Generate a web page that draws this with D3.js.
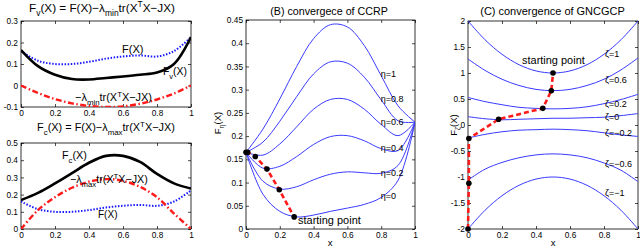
<!DOCTYPE html>
<html><head><meta charset="utf-8">
<script src="https://cdn.jsdelivr.net/npm/d3@7"></script>
<style>html,body{margin:0;padding:0;background:#fff;} svg{display:block;font-family:"Liberation Sans",Arial,sans-serif;}</style>
</head><body>
<svg id="c" width="640" height="248"></svg>
<script>
// ---------- DATA ----------
const xGrid = [0, 0.1, 0.2, 0.3, 0.4, 0.5, 0.6, 0.7, 0.8, 0.9, 1];
const xTicks = [0, 0.2, 0.4, 0.6, 0.8, 1];
const xTickLabels = ["0", "0.2", "0.4", "0.6", "0.8", "1"];

// Panel A (top): Fv = F - lambda_min tr(...)
const aTopYTicks = [-0.1, 0, 0.1, 0.2, 0.3];
const aTopYLabels = ["-0.1", "0", "0.1", "0.2", "0.3"];
const F_vals   = [0.16, 0.115, 0.10, 0.10, 0.11, 0.125, 0.135, 0.14, 0.135, 0.16, 0.225];
const Fv_vals  = [0.165, 0.09, 0.05, 0.03, 0.028, 0.035, 0.042, 0.05, 0.06, 0.10, 0.225];
const minTerm  = [0, -0.035, -0.063, -0.083, -0.095, -0.1, -0.097, -0.085, -0.065, -0.037, 0];

// Panel A (bottom): Fc = F - lambda_max tr(...)
const aBotYTicks = [0, 0.1, 0.2, 0.3, 0.4, 0.5];
const aBotYLabels = ["0", "0.1", "0.2", "0.3", "0.4", "0.5"];
const Fc_vals  = [0.168, 0.21, 0.265, 0.325, 0.385, 0.425, 0.425, 0.39, 0.32, 0.265, 0.235];
const maxTerm  = [0, 0.11, 0.185, 0.24, 0.275, 0.29, 0.28, 0.245, 0.185, 0.09, 0];

// Panel B: convergence of CCRP
const bYTicks = [0, 0.05, 0.1, 0.15, 0.2, 0.25, 0.3, 0.35, 0.4, 0.45];
const bYLabels = ["0", "0.05", "0.1", "0.15", "0.2", "0.25", "0.3", "0.35", "0.4", "0.45"];
const etaNames = ["η=1", "η=0.8", "η=0.6", "η=0.4", "η=0.2", "η=0"];
const eta1  = [0.165, 0.215, 0.280, 0.350, 0.410, 0.440, 0.435, 0.395, 0.330, 0.265, 0.23];
const eta08 = [0.165, 0.187, 0.232, 0.285, 0.334, 0.360, 0.357, 0.327, 0.278, 0.233, 0.23];
const eta06 = [0.165, 0.159, 0.183, 0.220, 0.258, 0.279, 0.279, 0.258, 0.225, 0.201, 0.23];
const eta04 = [0.165, 0.131, 0.135, 0.156, 0.182, 0.199, 0.201, 0.190, 0.173, 0.169, 0.23];
const eta02 = [0.165, 0.103, 0.086, 0.091, 0.106, 0.118, 0.123, 0.121, 0.120, 0.137, 0.23];
const eta0  = [0.165, 0.075, 0.038, 0.026, 0.030, 0.038, 0.045, 0.053, 0.068, 0.105, 0.23];
const etaLabelY = [0.328, 0.274, 0.223, 0.169, 0.115, 0.0645];
const bPathX = [0, 0.01, 0.055, 0.124, 0.197, 0.285];
const bPathY = [0.165, 0.165, 0.156, 0.129, 0.0845, 0.026];

// Panel C: convergence of GNCGCP
const cYTicks = [-2, -1.5, -1, -0.5, 0, 0.5, 1, 1.5, 2];
const cYLabels = ["-2", "-1.5", "-1", "-0.5", "0", "0.5", "1", "1.5", "2"];
const zetaNames = ["ζ=1", "ζ=0.6", "ζ=0.2", "ζ=0", "ζ=−0.2", "ζ=−0.6", "ζ=−1"];
const zeta1   = [2.0, 1.64, 1.36, 1.16, 1.04, 1.0, 1.04, 1.16, 1.36, 1.64, 2.0];
const zeta06  = [1.27, 1.05, 0.88, 0.76, 0.685, 0.66, 0.685, 0.76, 0.88, 1.06, 1.29];
const zeta02  = [0.53, 0.45, 0.39, 0.34, 0.32, 0.31, 0.32, 0.35, 0.41, 0.49, 0.59];
const zeta0   = [0.16, 0.12, 0.10, 0.11, 0.12, 0.13, 0.13, 0.14, 0.15, 0.18, 0.22];
const zetam02 = [-0.25, -0.18, -0.13, -0.10, -0.09, -0.08, -0.09, -0.11, -0.15, -0.19, -0.22];
const zetam06 = [-1.06, -0.85, -0.72, -0.63, -0.575, -0.555, -0.575, -0.63, -0.73, -0.87, -1.09];
const zetam1  = [-2.0, -1.64, -1.36, -1.16, -1.04, -1.0, -1.04, -1.16, -1.36, -1.64, -2.0];
const zetaLabelY = [1.30, 0.81, 0.35, 0.096, -0.22, -0.81, -1.36];
const cPathX = [0, 0.005, 0.005, 0.18, 0.44, 0.49, 0.5];
const cPathY = [-2, -1.12, -0.26, 0.11, 0.32, 0.66, 1.0];

// ---------- DRAWING ----------
const svg = d3.select("#c");
const BLUE = "#3a3aff";
const TICK_FS = 8.3;

function rich(sel, parts, size) {
  sel.selectAll("tspan").remove();
  let cur = 0;
  parts.forEach(p => {
    const off = p.sub ? size * 0.36 : p.sup ? -size * 0.36 : 0;
    sel.append("tspan")
      .attr("dy", off - cur)
      .attr("font-size", (p.sub || p.sup) ? size * 0.72 : size)
      .text(p.t);
    cur = off;
  });
}
// draw rich text and scale it so that it spans the given width
function richFit(sel, parts, size, width) {
  rich(sel, parts, size);
  const w = sel.node().getBBox().width;
  if (w > 0) rich(sel, parts, size * width / w);
}
function plainFit(sel, size, width) {
  sel.attr("font-size", size);
  const w = sel.node().getBBox().width;
  if (w > 0) sel.attr("font-size", size * width / w);
}

function makePanel(box, yDomain, yTicks, yLabels, id) {
  const x = d3.scaleLinear().domain([0, 1]).range([box.x0, box.x1]);
  const y = d3.scaleLinear().domain(yDomain).range([box.y1, box.y0]);
  const g = svg.append("g");
  svg.append("clipPath").attr("id", id).append("rect")
    .attr("x", box.x0).attr("y", box.y0).attr("width", box.x1 - box.x0).attr("height", box.y1 - box.y0);
  const style = a => {
    a.select(".domain").remove();
    a.attr("font-size", TICK_FS).attr("font-family", "Liberation Sans, Arial, sans-serif");
    a.selectAll("line").attr("stroke", "#000").attr("stroke-width", 0.7);
    a.selectAll("text").attr("fill", "#000");
  };
  g.append("g").attr("transform", `translate(0,${box.y1})`)
    .call(d3.axisBottom(x).tickValues(xTicks).tickFormat((d, i) => xTickLabels[i]).tickSizeInner(-3).tickSizeOuter(0).tickPadding(3))
    .call(style);
  g.append("g").attr("transform", `translate(0,${box.y0})`)
    .call(d3.axisTop(x).tickValues(xTicks).tickFormat("").tickSizeInner(-3).tickSizeOuter(0))
    .call(style);
  g.append("g").attr("transform", `translate(${box.x0},0)`)
    .call(d3.axisLeft(y).tickValues(yTicks).tickFormat((d, i) => yLabels[i]).tickSizeInner(-3).tickSizeOuter(0).tickPadding(3))
    .call(style);
  g.append("g").attr("transform", `translate(${box.x1},0)`)
    .call(d3.axisRight(y).tickValues(yTicks).tickFormat("").tickSizeInner(-3).tickSizeOuter(0))
    .call(style);
  g.append("rect").attr("x", box.x0).attr("y", box.y0)
    .attr("width", box.x1 - box.x0).attr("height", box.y1 - box.y0)
    .attr("fill", "none").attr("stroke", "#000").attr("stroke-width", 0.8);
  const plot = svg.append("g").attr("clip-path", `url(#${id})`);
  const line = d3.line().x((d, i) => x(xGrid[i])).y(d => y(d)).curve(d3.curveCatmullRom.alpha(0.5));
  return { x, y, g, plot, line };
}

const minLabel = [{ t: "−λ" }, { t: "min", sub: 1 }, { t: "tr(X" }, { t: "T", sup: 1 }, { t: "X−JX)" }];
const maxLabel = [{ t: "−λ" }, { t: "max", sub: 1 }, { t: "tr(X" }, { t: "T", sup: 1 }, { t: "X−JX)" }];

// ----- Panel A top -----
{
  const p = makePanel({ x0: 21, x1: 191, y0: 21, y1: 107 }, [-0.1, 0.3], aTopYTicks, aTopYLabels, "cA1");
  p.plot.append("path").attr("d", p.line(minTerm)).attr("fill", "none").attr("stroke", "#ff1a1a")
    .attr("stroke-width", 2.4).attr("stroke-dasharray", "6,2.5,1.5,2.5");
  p.plot.append("path").attr("d", p.line(F_vals)).attr("fill", "none").attr("stroke", "#1a1aff")
    .attr("stroke-width", 2).attr("stroke-dasharray", "1.5,1.6");
  p.plot.append("path").attr("d", p.line(Fv_vals)).attr("fill", "none").attr("stroke", "#000")
    .attr("stroke-width", 2.6);
  const t = svg.append("text").attr("x", 102).attr("y", 11.5).attr("text-anchor", "middle");
  richFit(t, [{ t: "F" }, { t: "v", sub: 1 }, { t: "(X) = F(X)−λ" }, { t: "min", sub: 1 }, { t: "tr(X" }, { t: "T", sup: 1 }, { t: "X−JX)" }], 10.5, 146);
  plainFit(svg.append("text").attr("x", p.x(0.594)).attr("y", p.y(0.151)).text("F(X)"), 10.5, 21.5);
  richFit(svg.append("text").attr("x", p.x(0.835)).attr("y", p.y(0.049)), [{ t: "F" }, { t: "v", sub: 1 }, { t: "(X)" }], 10.5, 24);
  richFit(svg.append("text").attr("x", p.x(0.318)).attr("y", p.y(-0.072)), minLabel, 10.5, 77);
}

// ----- Panel A bottom -----
{
  const p = makePanel({ x0: 21, x1: 191, y0: 143, y1: 229 }, [0, 0.5], aBotYTicks, aBotYLabels, "cA2");
  p.plot.append("path").attr("d", p.line(F_vals)).attr("fill", "none").attr("stroke", "#1a1aff")
    .attr("stroke-width", 2).attr("stroke-dasharray", "1.5,1.6");
  p.plot.append("path").attr("d", p.line(Fc_vals)).attr("fill", "none").attr("stroke", "#000")
    .attr("stroke-width", 2.6);
  p.plot.append("path").attr("d", p.line(maxTerm)).attr("fill", "none").attr("stroke", "#ff1a1a")
    .attr("stroke-width", 2.4).attr("stroke-dasharray", "6,2.5,1.5,2.5");
  const t = svg.append("text").attr("x", 106).attr("y", 131).attr("text-anchor", "middle");
  richFit(t, [{ t: "F" }, { t: "c", sub: 1 }, { t: "(X) = F(X)−λ" }, { t: "max", sub: 1 }, { t: "tr(X" }, { t: "T", sup: 1 }, { t: "X−JX)" }], 10.5, 138);
  richFit(svg.append("text").attr("x", p.x(0.241)).attr("y", p.y(0.407)), [{ t: "F" }, { t: "c", sub: 1 }, { t: "(X)" }], 10.5, 25);
  richFit(svg.append("text").attr("x", p.x(0.288)).attr("y", p.y(0.267)), maxLabel, 10.5, 78);
  plainFit(svg.append("text").attr("x", p.x(0.453)).attr("y", p.y(0.064)).text("F(X)"), 10.5, 19.5);
}

// ----- Panel B -----
{
  const p = makePanel({ x0: 246, x1: 415, y0: 20, y1: 229 }, [0, 0.45], bYTicks, bYLabels, "cB");
  [eta1, eta08, eta06, eta04, eta02, eta0].forEach(s => {
    p.plot.append("path").attr("d", p.line(s)).attr("fill", "none").attr("stroke", BLUE).attr("stroke-width", 1);
  });
  etaNames.forEach((n, i) => {
    svg.append("text").attr("x", p.x(0.797)).attr("y", p.y(etaLabelY[i])).attr("font-size", 9).text(n);
  });
  const pl = d3.line().x((d, i) => p.x(bPathX[i])).y(d => p.y(d));
  svg.append("path").attr("d", pl(bPathY)).attr("fill", "none").attr("stroke", "#ff1a1a")
    .attr("stroke-width", 2.6).attr("stroke-dasharray", "5,3");
  bPathY.forEach((v, i) => svg.append("circle").attr("cx", p.x(bPathX[i])).attr("cy", p.y(v)).attr("r", 2.8).attr("fill", "#000"));
  plainFit(svg.append("text").attr("x", p.x(0.308)).attr("y", p.y(0.0114)).text("starting point"), 10, 63);
  plainFit(svg.append("text").attr("x", 329).attr("y", 15).attr("text-anchor", "middle").text("(B) convergece of CCRP"), 10, 118);
  svg.append("text").attr("x", 330).attr("y", 246).attr("text-anchor", "middle").attr("font-size", 9.5).text("x");
  const yl = svg.append("text").attr("transform", "translate(221,123) rotate(-90)").attr("text-anchor", "middle");
  rich(yl, [{ t: "F" }, { t: "η", sub: 1 }, { t: "(X)" }], 9.5);
}

// ----- Panel C -----
{
  const p = makePanel({ x0: 468, x1: 638, y0: 21, y1: 229 }, [-2, 2], cYTicks, cYLabels, "cC");
  [zeta1, zeta06, zeta02, zeta0, zetam02, zetam06, zetam1].forEach(s => {
    p.plot.append("path").attr("d", p.line(s)).attr("fill", "none").attr("stroke", BLUE).attr("stroke-width", 1);
  });
  zetaNames.forEach((n, i) => {
    svg.append("text").attr("x", p.x(0.806)).attr("y", p.y(zetaLabelY[i])).attr("font-size", 9).text(n);
  });
  const pl = d3.line().x((d, i) => p.x(cPathX[i])).y(d => p.y(d));
  svg.append("path").attr("d", pl(cPathY)).attr("fill", "none").attr("stroke", "#ff1a1a")
    .attr("stroke-width", 2.6).attr("stroke-dasharray", "5,3");
  cPathY.forEach((v, i) => svg.append("circle").attr("cx", p.x(cPathX[i])).attr("cy", p.y(v)).attr("r", 2.8).attr("fill", "#000"));
  plainFit(svg.append("text").attr("x", p.x(0.318)).attr("y", p.y(1.17)).text("starting point"), 10, 63);
  plainFit(svg.append("text").attr("x", 552.5).attr("y", 15).attr("text-anchor", "middle").text("(C) convergence of GNCGCP"), 10, 145);
  svg.append("text").attr("x", 553).attr("y", 246).attr("text-anchor", "middle").attr("font-size", 9.5).text("x");
  const yl = svg.append("text").attr("transform", "translate(457,125) rotate(-90)").attr("text-anchor", "middle");
  rich(yl, [{ t: "F" }, { t: "ζ", sub: 1 }, { t: "(X)" }], 9.5);
}
</script>
</body></html>
